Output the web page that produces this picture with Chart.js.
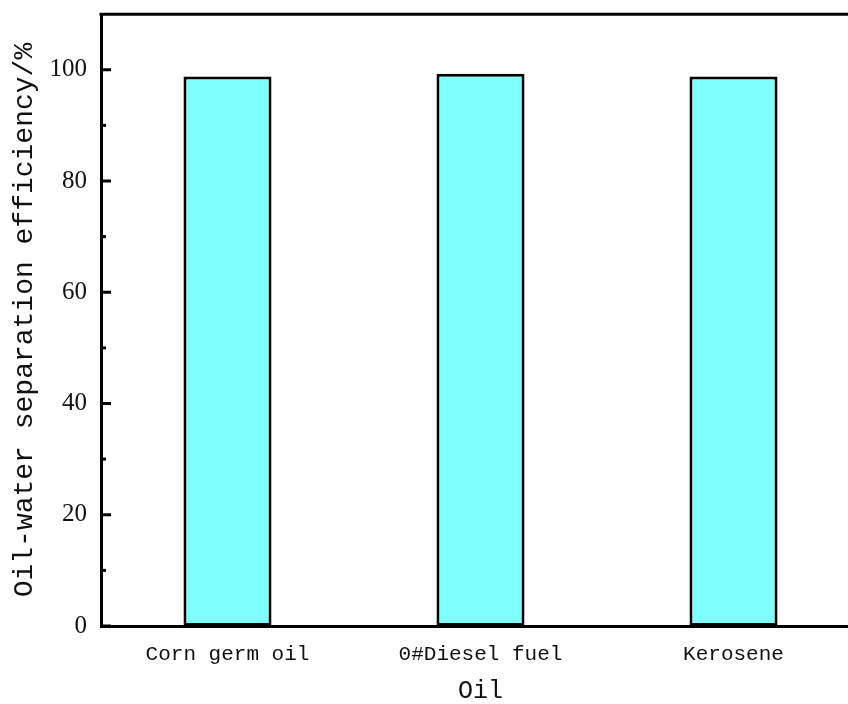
<!DOCTYPE html>
<html>
<head>
<meta charset="utf-8">
<script src="https://cdn.jsdelivr.net/npm/chart.js@4/dist/chart.umd.min.js"></script>
<style>
  html, body { margin: 0; padding: 0; background: #fff; overflow: hidden; }
  #wrap { width: 848px; height: 704px; overflow: hidden; }
</style>
</head>
<body>
<div id="wrap"><canvas id="oilChart" width="862" height="704"></canvas></div>
<script>
// Data
const oils = ["Corn germ oil", "0#Diesel fuel", "Kerosene"];
const efficiency = [98.8, 99.3, 98.8];
const majorTicks = [0, 20, 40, 60, 80, 100];
const minorTicks = [10, 30, 50, 70, 90];

// inward ticks on the y axis + top frame line
const frameTicks = {
  id: "frameTicks",
  afterDraw(chart) {
    const ctx = chart.ctx;
    const area = chart.chartArea;
    const y = chart.scales.y;
    ctx.save();
    ctx.strokeStyle = "#000";
    ctx.lineWidth = 3;
    ctx.beginPath();
    ctx.moveTo(area.left - 1.5, area.top);
    ctx.lineTo(area.right + 2, area.top);
    ctx.stroke();
    majorTicks.forEach((v) => {
      const py = y.getPixelForValue(v);
      ctx.beginPath();
      ctx.moveTo(area.left, py);
      ctx.lineTo(area.left + 10, py);
      ctx.stroke();
    });
    minorTicks.forEach((v) => {
      const py = y.getPixelForValue(v);
      ctx.beginPath();
      ctx.moveTo(area.left, py);
      ctx.lineTo(area.left + 5, py);
      ctx.stroke();
    });
    ctx.restore();
  },
};

const ctx = document.getElementById("oilChart").getContext("2d");
new Chart(ctx, {
  type: "bar",
  data: {
    labels: oils,
    datasets: [
      {
        data: efficiency,
        backgroundColor: "#80FFFF",
        borderColor: "#000",
        borderWidth: 3,
        borderSkipped: false,
        barPercentage: 0.348,
        categoryPercentage: 1,
      },
    ],
  },
  options: {
    responsive: false,
    animation: false,
    layout: { padding: { top: 14, right: 2, left: 0, bottom: 0 } },
    plugins: {
      legend: { display: false },
      tooltip: { enabled: false },
    },
    scales: {
      x: {
        grid: { display: false, drawTicks: false },
        border: { color: "#000", width: 3 },
        ticks: {
          color: "#111",
          padding: 16,
          maxRotation: 0,
          font: { family: "'Liberation Mono', monospace", size: 21 },
        },
        title: {
          display: true,
          text: "Oil",
          color: "#111",
          padding: { top: 0, bottom: 0 },
          font: { family: "'Liberation Mono', monospace", size: 25, lineHeight: 1 },
        },
        afterFit: (scale) => { scale.height = 78; },
      },
      y: {
        min: 0,
        max: 110,
        grid: { display: false, drawTicks: false },
        border: { color: "#000", width: 3 },
        afterBuildTicks: (scale) => {
          scale.ticks = majorTicks.map((v) => ({ value: v }));
        },
        ticks: {
          color: "#111",
          padding: 14,
          font: { family: "'Liberation Serif', serif", size: 25, lineHeight: 0.01 },
        },
        title: {
          display: true,
          text: "Oil-water separation efficiency/%",
          color: "#111",
          padding: { top: 11, bottom: 0 },
          font: { family: "'Liberation Mono', monospace", size: 28, lineHeight: 1 },
        },
        afterFit: (scale) => { scale.width = 101; },
      },
    },
  },
  plugins: [frameTicks],
});
</script>
</body>
</html>
